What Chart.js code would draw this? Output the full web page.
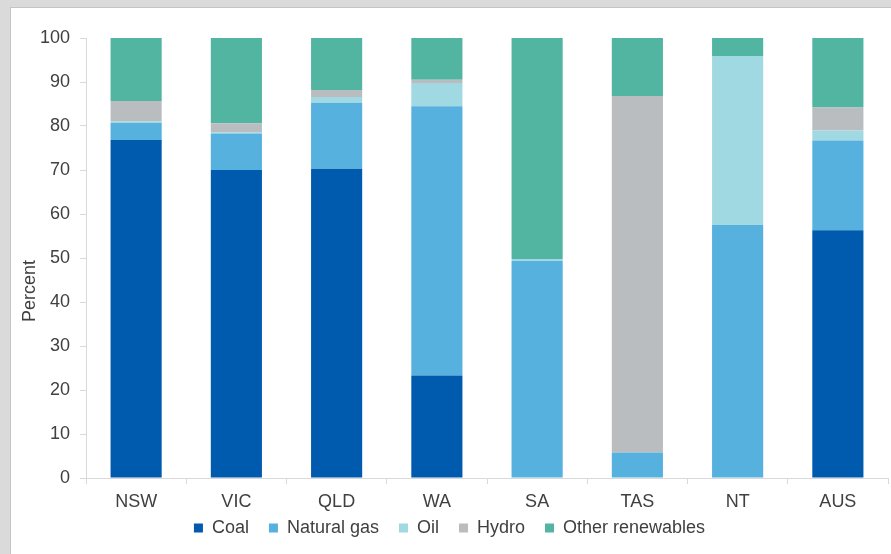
<!DOCTYPE html>
<html>
<head>
<meta charset="utf-8">
<script src="https://cdn.jsdelivr.net/npm/chart.js@4/dist/chart.umd.min.js"></script>
<style>
  html, body { margin: 0; padding: 0; background: #dadada; }
  #frame {
    position: absolute; left: 10px; top: 7px;
    width: 880px; height: 546px;
    background: #fff;
    border-left: 1px solid #c4c4c4; border-top: 1px solid #c4c4c4;
  }
  #chart { display: block; }
</style>
</head>
<body>
<div id="frame"><canvas id="chart" width="880" height="546"></canvas></div>
<script>
// states / territories
const states = ['NSW', 'VIC', 'QLD', 'WA', 'SA', 'TAS', 'NT', 'AUS'];

// share of electricity generation, percent
const coal       = [76.8, 70.0, 70.3, 23.3, 0.0,  0.0,  0.0,  56.3];
const naturalGas = [3.9,  8.3,  15.0, 61.2, 49.3, 5.8,  57.5, 20.4];
const oil        = [0.4,  0.3,  1.3,  5.3,  0.5,  0.0,  38.4, 2.3];
const hydro      = [4.6,  2.0,  1.6,  0.7,  0.0,  81.0, 0.0,  5.2];
const otherRenew = [14.3, 19.4, 11.8, 9.5,  50.2, 13.2, 4.1,  15.8];

const yTicks = [0, 10, 20, 30, 40, 50, 60, 70, 80, 90, 100];

const textCol = '#404040';
const lineCol = '#d9d9d9';
const font = { family: "'Liberation Sans', Arial, sans-serif", size: 18 };

// y axis title sits a bit below the plot middle in the original
const yTitle = {
  id: 'yTitle',
  beforeDraw(chart) {
    // x axis is kept short so the legend sits close, don't clip its labels
    chart.scales.x._computeLabelArea = function () { return undefined; };
  },
  afterDraw(chart) {
    const ctx = chart.ctx;
    const area = chart.chartArea;
    ctx.save();
    ctx.translate(19, area.top + (area.bottom - area.top) / 2 + 33);
    ctx.rotate(-Math.PI / 2);
    ctx.font = "18px 'Liberation Sans', Arial, sans-serif";
    ctx.fillStyle = textCol;
    ctx.textAlign = 'center';
    ctx.textBaseline = 'middle';
    ctx.fillText('Percent', 0, 0);
    ctx.restore();
  }
};

function ds(label, data, color) {
  return { label: label, data: data, backgroundColor: color, borderWidth: 0 };
}

const ctx = document.getElementById('chart').getContext('2d');
new Chart(ctx, {
  type: 'bar',
  data: {
    labels: states,
    datasets: [
      ds('Coal', coal, '#005aad'),
      ds('Natural gas', naturalGas, '#57b1df'),
      ds('Oil', oil, '#a0d9e1'),
      ds('Hydro', hydro, '#babdc0'),
      ds('Other renewables', otherRenew, '#52b5a2')
    ]
  },
  options: {
    responsive: false,
    animation: false,
    layout: { padding: { top: 30, right: 3, left: 0, bottom: 7 } },
    datasets: { bar: { categoryPercentage: 1.0, barPercentage: 0.51 } },
    plugins: {
      tooltip: { enabled: false },
      legend: {
        position: 'bottom',
        labels: {
          boxWidth: 9, boxHeight: 9, padding: 20,
          color: textCol, font: font
        }
      }
    },
    scales: {
      x: {
        stacked: true,
        grid: { drawOnChartArea: false, color: lineCol, tickLength: 6, offset: true },
        border: { color: lineCol, width: 1 },
        ticks: { color: textCol, font: font, padding: 7, maxRotation: 0 },
        afterFit(scale) { scale.height = 21; }
      },
      y: {
        stacked: true,
        min: 0, max: 100,
        afterBuildTicks(scale) { scale.ticks = yTicks.map(v => ({ value: v })); },
        grid: { drawOnChartArea: false, color: lineCol, tickLength: 6 },
        border: { color: lineCol, width: 1 },
        ticks: { color: textCol, font: font, padding: 10 },
        afterFit(scale) { scale.width = 75; }
      }
    }
  },
  plugins: [yTitle]
});
</script>
</body>
</html>
